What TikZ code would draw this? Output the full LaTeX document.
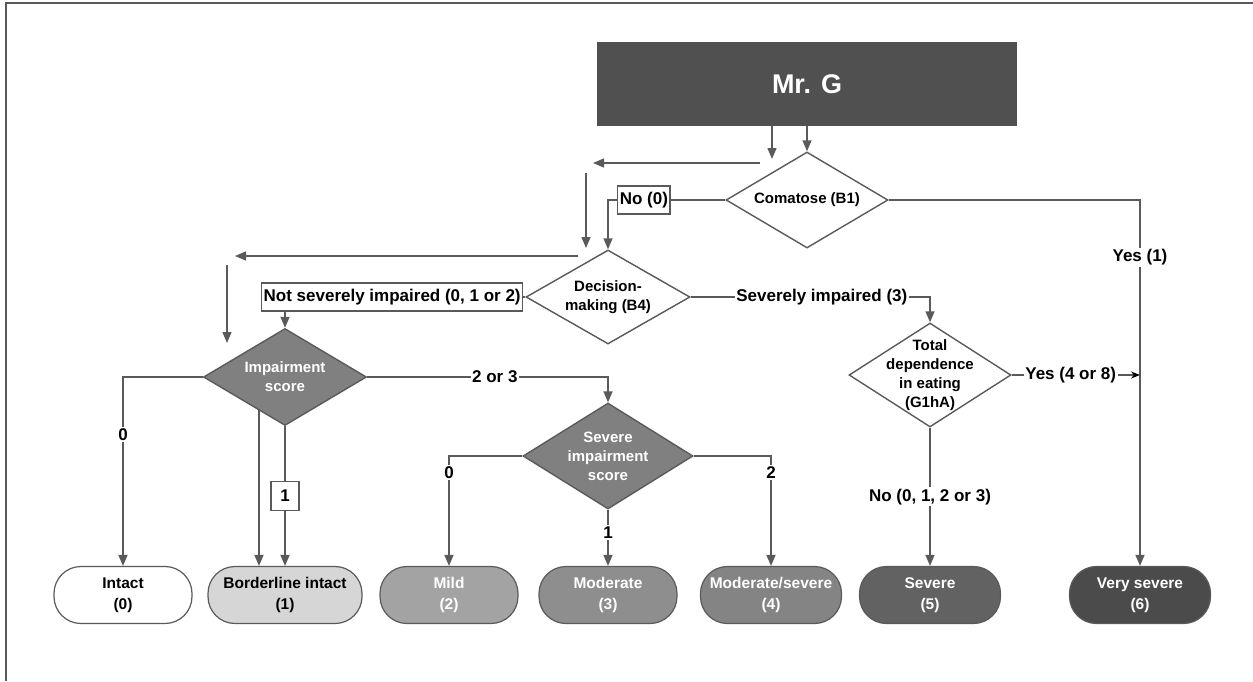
\documentclass[tikz,border=0pt]{standalone}
\usepackage{fontspec}
\setmainfont{Liberation Sans}
\usepackage{tikz}
\usetikzlibrary{arrows.meta,shapes.geometric,calc}

\definecolor{linegray}{HTML}{5A5A5A}
\definecolor{headgray}{HTML}{505050}
\definecolor{scoregray}{HTML}{808080}
\definecolor{lvlone}{HTML}{D6D6D6}
\definecolor{lvltwo}{HTML}{A3A3A3}
\definecolor{lvlthree}{HTML}{8E8E8E}
\definecolor{lvlfour}{HTML}{848484}
\definecolor{lvlfive}{HTML}{626262}
\definecolor{lvlsix}{HTML}{4B4B4B}

\begin{document}
\begin{tikzpicture}[
  x=1pt,
  y=-1pt,
  dia/.style={diamond, draw=linegray, line width=1.4pt, fill=white, inner sep=0pt},
  diatext/.style={font=\fontsize{15}{19}\selectfont\bfseries, align=center},
  scoredia/.style={dia, fill=scoregray, draw=scoregray!70!black},
  pill/.style={rectangle, rounded corners=27pt, draw=linegray, line width=1.2pt,
               minimum width=138, minimum height=57, align=center,
               font=\fontsize{15.5}{21}\selectfont\bfseries},
  lbl/.style={fill=white, inner sep=1.5pt, font=\fontsize{17}{19}\selectfont\bfseries},
  lblbox/.style={lbl, draw=linegray, line width=1.2pt, minimum height=28, inner xsep=2pt},
  arr/.style={draw=linegray, line width=1.4pt, -{Triangle[length=11pt,width=9pt]}},
  conn/.style={draw=linegray, line width=1.4pt},
]
\useasboundingbox (0,0) rectangle (1253,681);

% frame
\draw[linegray, line width=2pt] (6,681) -- (6,3) -- (1253,3);

% Header
\node[fill=headgray, minimum width=420, minimum height=84, text=white,
      font=\fontsize{27}{30}\selectfont\bfseries] (mrg) at (807,84) {Mr. G};

% Decision diamonds
\node[dia, minimum width=162, minimum height=96,
      label={[diatext]center:Comatose (B1)}] (coma) at (807,200) {};
\node[dia, minimum width=164, minimum height=94,
      label={[diatext]center:{Decision-\\making (B4)}}] (dec) at (608,297) {};
\node[dia, minimum width=162, minimum height=104,
      label={[diatext]center:{Total\\dependence\\in eating\\(G1hA)}}] (eat) at (930,375) {};
\node[scoredia, minimum width=163, minimum height=97,
      label={[diatext, text=white]center:{Impairment\\score}}] (imp) at (285,377) {};
\node[scoredia, minimum width=170, minimum height=106,
      label={[diatext, text=white]center:{Severe\\impairment\\score}}] (sev) at (608,456) {};

% Outcome levels
\node[pill, fill=white] (intact) at (123,595) {Intact\\(0)};
\node[pill, fill=lvlone, minimum width=154] (bord) at (285,595) {Borderline intact\\(1)};
\node[pill, fill=lvltwo, text=white] (mild) at (449,595) {Mild\\(2)};
\node[pill, fill=lvlthree, text=white] (mod) at (608,595) {Moderate\\(3)};
\node[pill, fill=lvlfour, text=white, minimum width=141] (modsev) at (771,595) {Moderate/severe\\(4)};
\node[pill, fill=lvlfive, text=white, minimum width=141] (severe) at (930,595) {Severe\\(5)};
\node[pill, fill=lvlsix, text=white, minimum width=141] (vsev) at (1140,595) {Very severe\\(6)};

% loose arrows
\coordinate (la1) at (772,126);
\coordinate (lb1) at (772,159);
\coordinate (la2) at (760,163);
\coordinate (lb2) at (593,163);
\coordinate (la3) at (586,173);
\coordinate (lb3) at (586,248);
\coordinate (la4) at (578,256);
\coordinate (lb4) at (235,256);
\coordinate (la5) at (227,265);
\coordinate (lb5) at (227,343);
\foreach \a/\b in {la1/lb1,la2/lb2,la3/lb3,la4/lb4,la5/lb5}
  \draw[arr] (\a) -- (\b);

% Connectors
\draw[arr] (mrg.south -| coma.north) -- (coma.north);
\draw[arr] (coma.west) -| (dec.north)
  node[lblbox, pos=0.347] (no) {No (0)};
\draw[arr] (coma.east) -| (vsev.north)
  node[lbl, pos=0.578] (yes) {Yes (1)};
\draw[arr] (dec.west) -| (imp.north)
  node[lblbox, pos=0.277] (notsev) {Not severely impaired (0, 1 or 2)};
\draw[arr] (dec.east) -| (eat.north)
  node[lbl, pos=0.274] (sevimp) {Severely impaired (3)};
\draw[conn, -{Stealth[black,length=9pt,width=7pt]}] (eat.east) -- (eat.east -| vsev.north)
  node[lbl, pos=0.46] (yeseat) {Yes (4 or 8)};
\draw[arr] (eat.south) -- (severe.north)
  node[lbl, pos=0.5] (noeat) {No (0, 1, 2 or 3)};

\draw[arr] (imp.west) -| (intact.north)
  node[lbl, pos=0.653] (zeroa) {0};
\coordinate (impl) at (259,410);
\draw[arr] (impl) -- (impl |- bord.north);
\draw[arr] (imp.south) -- (bord.north)
  node[lblbox, pos=0.5, minimum width=28, minimum height=29] (one) {1};
\draw[arr] (imp.east) -| (sev.north)
  node[lbl, pos=0.265] (twothree) {2 or 3};

\draw[arr] (sev.west) -| (mild.north)
  node[lbl, pos=0.577] (zerob) {0};
\draw[arr] (sev.south) -- (mod.north)
  node[lbl, pos=0.41] (oneb) {1};
\draw[arr] (sev.east) -| (modsev.north)
  node[lbl, pos=0.577] (twob) {2};

\end{tikzpicture}
\end{document}
